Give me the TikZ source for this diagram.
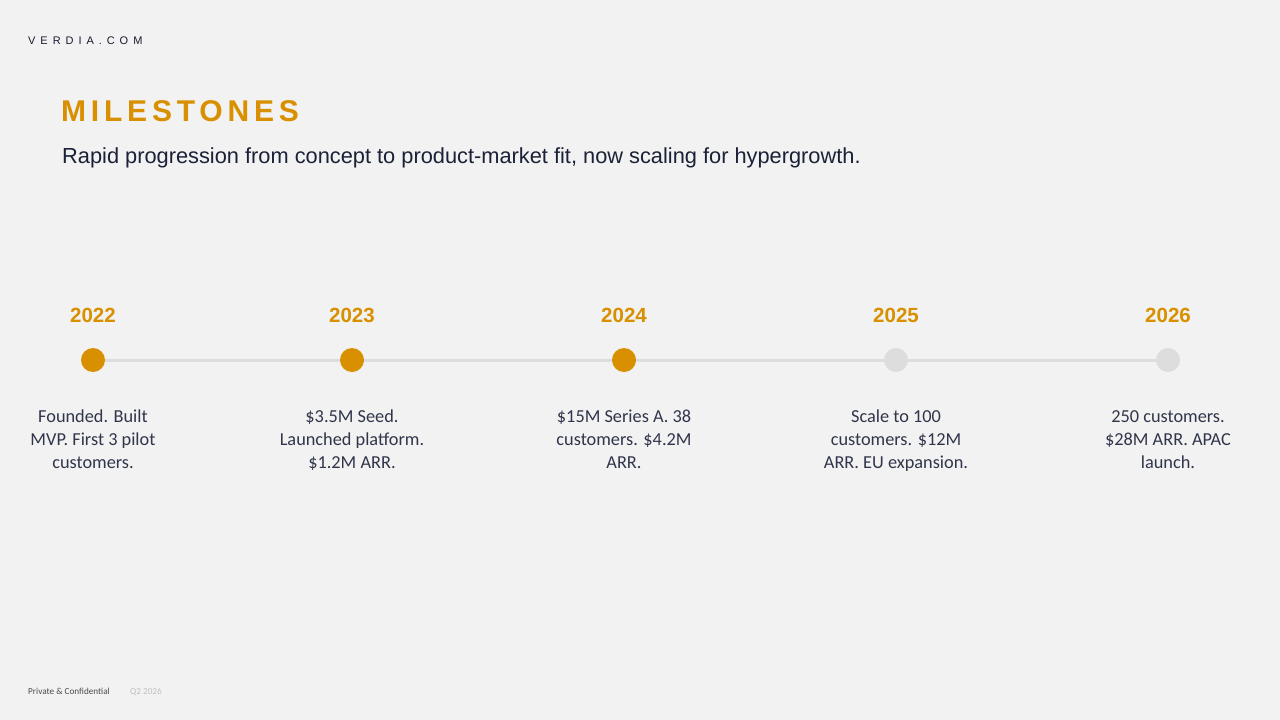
\documentclass[tikz,border=0pt]{standalone}
\usepackage{fontspec}
\setmainfont{Liberation Sans}
\newfontfamily\descfont{Carlito}
\newfontfamily\titlefont[LetterSpace=16]{Liberation Sans}
\newfontfamily\brandfont[LetterSpace=45]{Liberation Sans}
\definecolor{bg}{HTML}{F2F2F2}
\definecolor{gold}{HTML}{D89000}
\definecolor{track}{HTML}{DDDDDD}
\definecolor{navy}{HTML}{1B2136}
\definecolor{bodytxt}{HTML}{30354A}
\begin{document}
\begin{tikzpicture}[x=1pt,y=-1pt,
  yearlbl/.style={font=\fontsize{20.5}{24}\selectfont\bfseries, text=gold, anchor=center, inner sep=0},
  dotdone/.style={circle, fill=gold, minimum size=24, inner sep=0},
  dotnext/.style={circle, fill=track, minimum size=24, inner sep=0},
  desc/.style={font=\descfont\fontsize{18.3}{23}\selectfont, text=bodytxt, align=center, anchor=north, inner sep=0},
  trackline/.style={draw=track, line width=3pt}
]
\fill[bg] (0,0) rectangle (1280,720);
\useasboundingbox (0,0) rectangle (1280,720);

\node[anchor=base west, inner sep=0, text=navy!85!black, font=\brandfont\fontsize{11}{13}\selectfont] (brand) at (28,44) {VERDIA.COM};
\node[anchor=base west, inner sep=0, text=gold, font=\titlefont\fontsize{30}{34}\selectfont\bfseries] (title) at (61,121) {MILESTONES};
\node[anchor=base west, inner sep=0, text=navy, font=\fontsize{21.8}{26}\selectfont] (subtitle) at (62,163) {Rapid progression from concept to product-market fit, now scaling for hypergrowth.};

\foreach \n/\x in {a/93, b/352, c/624, d/896, e/1168} {
  \coordinate (p\n) at (\x,360);
}
\draw[trackline] (pa) -- (pe);

\node[dotdone] (da) at (pa) {};
\node[dotdone] (db) at (pb) {};
\node[dotdone] (dc) at (pc) {};
\node[dotnext] (dd) at (pd) {};
\node[dotnext] (de) at (pe) {};

\node[yearlbl] (ya) at (93,315) {2022};
\node[yearlbl] (yb) at (352,315) {2023};
\node[yearlbl] (yc) at (624,315) {2024};
\node[yearlbl] (yd) at (896,315) {2025};
\node[yearlbl] (ye) at (1168,315) {2026};

\node[desc] (ta) at (93,406) {\strut Founded. Built\\MVP. First 3 pilot\\customers.};
\node[desc] (tb) at (352,406) {\strut\$3.5M Seed.\\Launched platform.\\\$1.2M ARR.};
\node[desc] (tc) at (624,406) {\strut\$15M Series A. 38\\customers. \$4.2M\\ARR.};
\node[desc] (td) at (896,406) {\strut Scale to 100\\customers. \$12M\\ARR. EU expansion.};
\node[desc] (te) at (1168,406) {\strut 250 customers.\\\$28M ARR. APAC\\launch.};

\node[anchor=base west, inner sep=0, text=black!70, font=\descfont\fontsize{9.2}{11}\selectfont] (conf) at (28,694) {Private \& Confidential};
\node[anchor=base west, inner sep=0, text=black!25, font=\descfont\fontsize{9.2}{11}\selectfont] (qtr) at (130,694) {Q2 2026};
\end{tikzpicture}
\end{document}
